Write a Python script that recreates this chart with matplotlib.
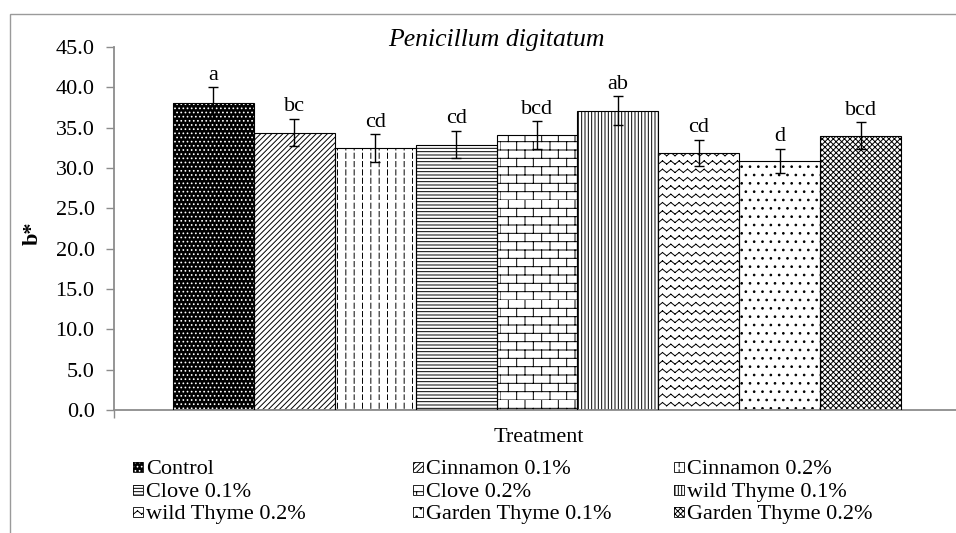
import warnings
import numpy as np
import matplotlib
matplotlib.use("Agg")
import matplotlib.pyplot as plt
import matplotlib.hatch as mhatch
from matplotlib.path import Path
from matplotlib.patches import Rectangle

warnings.filterwarnings('ignore')
plt.rcParams['font.family'] = ['Liberation Serif', 'DejaVu Serif']
plt.rcParams['hatch.linewidth'] = 0.7


# extra hatch patterns: B = bricks, Z = zigzag, D = dashed vertical lines
class BrickHatch(mhatch.HatchPatternBase):
    def __init__(self, hatch, density):
        n = int(hatch.count('B') * density)
        self.rows = n + n % 2
        self.k = self.rows // 2
        self.num_vertices = self.rows * (2 + 2 * self.k)

    def set_vertices_and_codes(self, vertices, codes):
        n, k = self.rows, self.k
        pts = []
        for i in range(n):
            y0, y1 = i / n, (i + 1) / n
            pts += [(0, y0), (1, y0)]
            off = 0.5 * (i % 2)
            for j in range(k):
                xx = (j + off) / k
                pts += [(xx, y0), (xx, y1)]
        vertices[:] = pts
        codes[0::2] = Path.MOVETO
        codes[1::2] = Path.LINETO


class ZigzagHatch(mhatch.HatchPatternBase):
    def __init__(self, hatch, density):
        self.rows = int(hatch.count('Z') * density)
        self.k = 12
        self.num_vertices = self.rows * self.k * 4

    def set_vertices_and_codes(self, vertices, codes):
        n, k = self.rows, self.k
        amp = 0.4 / max(n, 1)
        pts = []
        for i in range(n):
            y0 = (i + 0.3) / n
            for m in range(2 * k):
                pts += [(m / (2 * k), y0 + amp * (m % 2)),
                        ((m + 1) / (2 * k), y0 + amp * ((m + 1) % 2))]
        vertices[:] = pts
        codes[0::2] = Path.MOVETO
        codes[1::2] = Path.LINETO


class DashHatch(mhatch.HatchPatternBase):
    def __init__(self, hatch, density):
        self.cols = int(hatch.count('D') * density)
        self.d = 12
        self.num_vertices = self.cols * self.d * 2

    def set_vertices_and_codes(self, vertices, codes):
        pts = []
        for c in range(self.cols):
            xx = (c + 0.5) / self.cols
            for j in range(self.d):
                pts += [(xx, j / self.d), (xx, (j + 0.62) / self.d)]
        vertices[:] = pts
        codes[0::2] = Path.MOVETO
        codes[1::2] = Path.LINETO


mhatch._hatch_types += [BrickHatch, ZigzagHatch, DashHatch]

treatments = ['Control', 'Cinnamon 0.1%', 'Cinnamon 0.2%', 'Clove 0.1%', 'Clove 0.2%',
              'wild Thyme 0.1%', 'wild Thyme 0.2%', 'Garden Thyme 0.1%', 'Garden Thyme 0.2%']
b_star = [38.1, 34.4, 32.5, 32.9, 34.1, 37.1, 31.9, 30.9, 34.0]
err = [1.9, 1.7, 1.7, 1.7, 1.7, 1.8, 1.6, 1.5, 1.7]
letters = ['a', 'bc', 'cd', 'cd', 'bcd', 'ab', 'cd', 'd', 'bcd']
yticks = np.arange(0, 46, 5)

# fill, hatch colour, hatch pattern
styles = [('black', 'white', '....'),
          ('white', 'black', '//////'),
          ('white', 'black', 'DD'),
          ('white', 'black', '-----'),
          ('white', 'black', 'BB'),
          ('white', 'black', '|||||'),
          ('white', 'black', 'ZZ'),
          ('white', 'black', '..'),
          ('white', 'black', 'xxxxxx')]

W, H = 956, 533
fig = plt.figure(figsize=(W / 100, H / 100), dpi=100)
ax = fig.add_axes([114 / W, 123 / H, (960 - 114) / W, 363 / H])

# outer chart frame
fig.patches.append(Rectangle((10 / W, -0.1), 1.2, (533 - 14) / H + 0.1, transform=fig.transFigure,
                             fill=False, edgecolor='#9a9a9a', lw=1.0))

x = np.arange(len(treatments))
for i in range(len(treatments)):
    fc, hc, hatch = styles[i]
    ax.bar(x[i], b_star[i], width=1.0, color=fc, edgecolor=hc, hatch=hatch, lw=0, zorder=2)
    ax.bar(x[i], b_star[i], width=1.0, fill=False, edgecolor='black', lw=0.8, zorder=3)

ax.errorbar(x, b_star, yerr=err, fmt='none', ecolor='black', elinewidth=1.0,
            capsize=3.5, capthick=1.0, zorder=4)
for i in range(len(treatments)):
    ax.text(x[i], b_star[i] + err[i] + 0.3, letters[i], ha='center', va='bottom', fontsize=16)

ax.set_xlim(-1.23, 9.23)
ax.set_ylim(0, 45)
ax.set_yticks(yticks)
ax.set_yticklabels([f'{v:.1f}' for v in yticks], fontsize=16)
ax.set_xticks([-1.23])
ax.set_xticklabels([''])
ax.tick_params(axis='both', direction='out', length=6, color='#8c8c8c', width=1.0, pad=8)
for s in ['top', 'right']:
    ax.spines[s].set_visible(False)
for s in ['left', 'bottom']:
    ax.spines[s].set_color('#8c8c8c')
    ax.spines[s].set_linewidth(1.3)

fig.text(33 / W, 1 - 233 / H, 'b*', rotation=90, fontsize=16, fontweight='bold',
         ha='center', va='center')
fig.text(496 / W, 1 - 40 / H, 'Penicillum digitatum', style='italic', fontsize=18.5,
         ha='center', va='center')
fig.text(539 / W, 1 - 437 / H, 'Treatment', fontsize=16, ha='center', va='center')

# legend: three columns, filled row by row
col_marker = [133, 413, 674]
row_center = [467, 489.5, 512]
msz = 10
for k, name in enumerate(treatments):
    r, c = divmod(k, 3)
    fc, hc, hatch = styles[k]
    mx, my = col_marker[c], row_center[r]
    fig.add_artist(Rectangle((mx / W, 1 - (my + msz / 2) / H), msz / W, msz / H,
                             transform=fig.transFigure, facecolor=fc, edgecolor=hc,
                             hatch=hatch, lw=0))
    fig.add_artist(Rectangle((mx / W, 1 - (my + msz / 2) / H), msz / W, msz / H,
                             transform=fig.transFigure, fill=False, edgecolor='black', lw=0.6))
    fig.text((mx + msz + 3) / W, 1 - (my + 7.5) / H, name, fontsize=16,
             ha='left', va='baseline')

fig.savefig('out.png', dpi=100)
